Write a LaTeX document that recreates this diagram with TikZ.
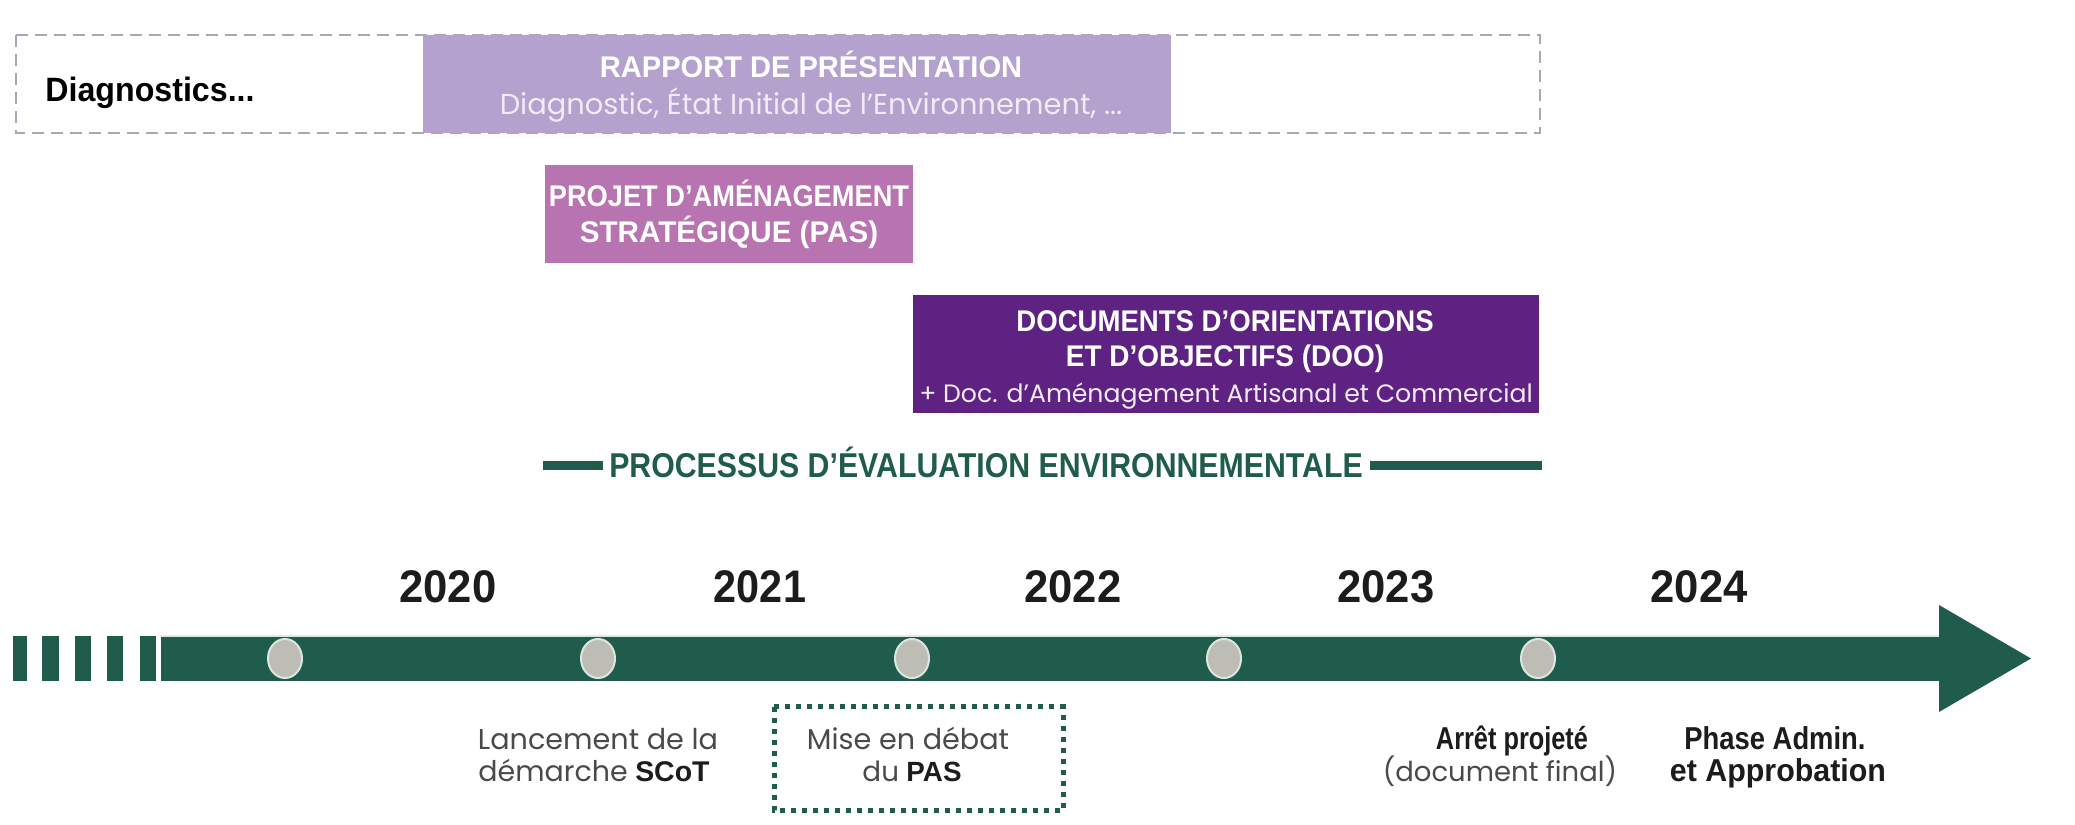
\documentclass[tikz,border=0pt]{standalone}
\usepackage{fontspec}
\setmainfont{Poppins}
\newfontfamily\hv{Liberation Sans}
\usetikzlibrary{shapes.geometric}
\definecolor{lav}{HTML}{B4A1CD}
\definecolor{orch}{HTML}{B873B1}
\definecolor{dpurp}{HTML}{5E2382}
\definecolor{grn}{HTML}{1F5C4C}
\definecolor{mgray}{HTML}{BDBDB6}
\definecolor{mrim}{HTML}{DCE6DE}
\definecolor{dashg}{HTML}{A8A8B4}
\definecolor{subc}{HTML}{F2EAF4}
\definecolor{botc}{HTML}{4A4A4A}
\definecolor{yearc}{HTML}{1C1C1C}
\newcommand{\fw}[2]{\resizebox{#1}{!}{#2}}
\newcommand{\fwh}[2]{\resizebox{#1}{\height}{#2}}
\begin{document}
\begin{tikzpicture}[x=0.01cm,y=-0.01cm,
  txt/.style={inner sep=0pt,outer sep=0pt,anchor=base},
  ttl/.style={txt,text=white,font=\hv\bfseries\fontsize{8.5pt}{9pt}\selectfont},
  sub/.style={txt,text=subc,font=\fontsize{8pt}{9pt}\selectfont},
  yr/.style={txt,text=yearc,font=\hv\bfseries\fontsize{13pt}{14pt}\selectfont},
  bot/.style={txt,text=botc,font=\fontsize{8pt}{9pt}\selectfont},
  botb/.style={txt,text=yearc,font=\hv\bfseries\fontsize{9pt}{10pt}\selectfont},
  box/.style={rectangle,inner sep=0pt,outer sep=0pt,anchor=north west},
  milestone/.style={ellipse,inner sep=0pt,minimum width=0.34cm,minimum height=0.39cm,fill=mgray,draw=mrim,line width=0.02cm},
  dashbox/.style={draw=dashg,line width=0.02cm,dash pattern=on 0.12cm off 0.07cm},
  dotbox/.style={draw=grn,line width=0.05cm,dash pattern=on 0.05cm off 0.06cm},
  evalbar/.style={draw=grn,line width=0.09cm}
]
\useasboundingbox (0,0) rectangle (2075,825);
\fill[white] (0,0) rectangle (2075,825);

% --- top dashed band
\draw[dashbox] (16,35) rectangle (1540,133);
\node[box,fill=lav,minimum width=7.48cm,minimum height=0.98cm] (rapport) at (423,35) {};
\node[txt,font=\hv\bfseries\fontsize{9.6pt}{10pt}\selectfont,text=black] (diag) at (150,102) {\fwh{2.09cm}{Diagnostics...}};
\node[ttl] (rt1) at (811,78) {\fwh{4.22cm}{RAPPORT DE PRÉSENTATION}};
\node[sub] (rt2) at (811,115) {\fw{6.22cm}{Diagnostic, État Initial de l’Environnement, ...}};

% --- PAS
\node[box,fill=orch,minimum width=3.68cm,minimum height=0.98cm] (pas) at (545,165) {};
\node[ttl] (p1) at (729,207) {\fwh{3.60cm}{PROJET D’AMÉNAGEMENT}};
\node[ttl] (p2) at (729,243) {\fwh{2.98cm}{STRATÉGIQUE (PAS)}};

% --- DOO
\node[box,fill=dpurp,minimum width=6.26cm,minimum height=1.18cm] (doo) at (913,295) {};
\node[ttl] (d1) at (1225,332) {\fwh{4.17cm}{DOCUMENTS D’ORIENTATIONS}};
\node[ttl] (d2) at (1225,367) {\fwh{3.18cm}{ET D’OBJECTIFS (DOO)}};
\node[sub] (d3) at (1226,403) {\fw{6.13cm}{+ Doc. d’Aménagement Artisanal et Commercial}};

% --- evaluation
\node[txt,text=grn,font=\hv\bfseries\fontsize{9.8pt}{10pt}\selectfont] (proc) at (986,478) {\fwh{7.53cm}{PROCESSUS D’ÉVALUATION ENVIRONNEMENTALE}};
\coordinate (el) at (543,466);
\coordinate (er) at (1542,466);
\draw[evalbar] (el) -- (603,466);
\draw[evalbar] (1370,466) -- (er);

% --- years
\node[yr] (y20) at (448,603) {\fwh{0.97cm}{2020}};
\node[yr] (y21) at (760,603) {\fwh{0.92cm}{2021}};
\node[yr] (y22) at (1073,603) {\fwh{0.97cm}{2022}};
\node[yr] (y23) at (1386,603) {\fwh{0.97cm}{2023}};
\node[yr] (y24) at (1699,603) {\fwh{0.97cm}{2024}};

% --- timeline
\foreach \a/\b in {13/27,42/59,75/91,107/123,140/156}{
  \fill[grn] (\a,636) rectangle (\b,681);
}
\fill[grn] (161,636) -- (1939,636) -- (1939,605) -- (2031,658.5) -- (1939,712) -- (1939,681) -- (161,681) -- cycle;
\draw[mrim,line width=0.012cm] (161,636.6) -- (1939,636.6);

\node[milestone] (m1) at (285,658.5) {};
\node[milestone] (m2) at (598,658.5) {};
\node[milestone] (m3) at (912,658.5) {};
\node[milestone] (m4) at (1224,658.5) {};
\node[milestone] (m5) at (1538,658.5) {};

% --- bottom labels
\node[bot] (l1) at (598,750) {\fw{2.40cm}{Lancement de la}};
\node[bot] (l2) at (594,782) {\fw{2.31cm}{démarche \hv\bfseries\color{yearc}SCoT}};
\draw[dotbox] (774,707) rectangle (1063,811);
\node[bot] (mi1) at (908,750) {\fw{2.02cm}{Mise en débat}};
\node[bot] (mi2) at (912,782) {\fw{0.99cm}{du \hv\bfseries\color{yearc}PAS}};
\node[botb] (a1) at (1512,750) {\fwh{1.52cm}{Arrêt projeté}};
\node[bot] (a2) at (1500,782) {\fw{2.34cm}{(document final)}};
\node[botb] (ph1) at (1775,750) {\fwh{1.81cm}{Phase Admin.}};
\node[botb] (ph2) at (1778,782) {\fwh{2.16cm}{et Approbation}};
\end{tikzpicture}
\end{document}
